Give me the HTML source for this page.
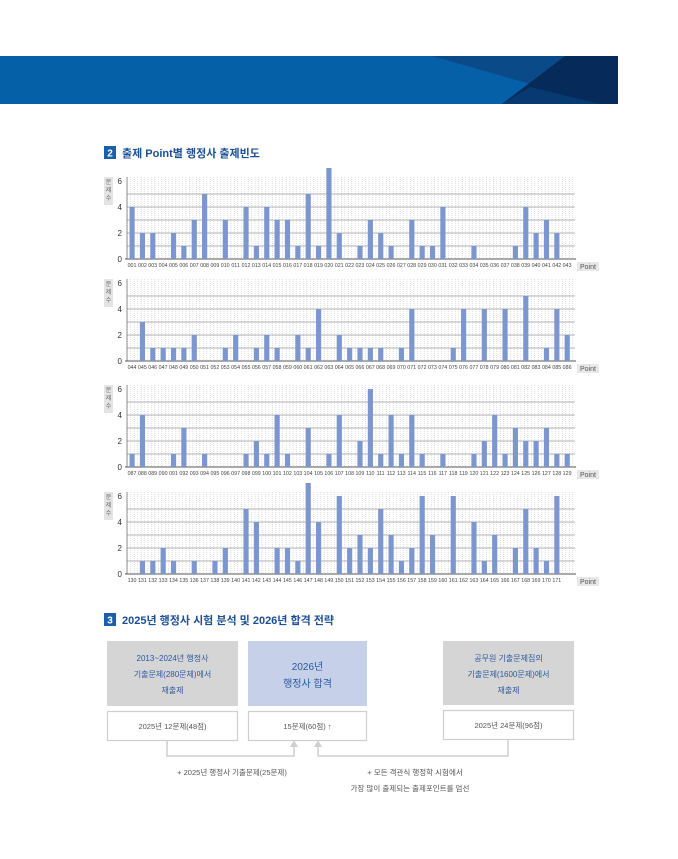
<!DOCTYPE html>
<html><head><meta charset="utf-8"><style>
html,body{margin:0;padding:0;background:#fff;}
svg{display:block;font-family:"Liberation Sans","Noto Sans CJK KR",sans-serif;}
.lb text{font-size:5.3px;fill:#444;text-anchor:middle;}
.yt{font-size:8px;fill:#333;text-anchor:end;}
.pt{font-size:7px;fill:#555;}
</style></head><body>
<svg width="678" height="859" viewBox="0 0 678 859" xmlns="http://www.w3.org/2000/svg">
<defs>
<pattern id="vd" x="127" y="0" width="3.453" height="2" patternUnits="userSpaceOnUse">
<rect x="0" y="0" width="0.6" height="1" fill="#c8c8c8"/>
</pattern>
<g id="grid">
<rect x="127" y="-82" width="448" height="82" fill="url(#vd)"/>
<g stroke="#9a9a9a" stroke-width="0.7">
<line x1="127" x2="575" y1="-13" y2="-13"/><line x1="127" x2="575" y1="-26" y2="-26"/>
<line x1="127" x2="575" y1="-39" y2="-39"/><line x1="127" x2="575" y1="-52" y2="-52"/>
<line x1="127" x2="575" y1="-65" y2="-65"/>
</g>
<line x1="127" x2="127" y1="-82" y2="0" stroke="#777" stroke-width="0.8"/>
<line x1="125" x2="576" y1="0" y2="0" stroke="#555" stroke-width="1"/>
<text class="yt" x="122" y="3">0</text><text class="yt" x="122" y="-23">2</text>
<text class="yt" x="122" y="-49">4</text><text class="yt" x="122" y="-75">6</text>
<rect x="104" y="-82" width="9" height="28" fill="#e4e4e4"/>
<text x="108.5" y="-75" font-size="6" fill="#666" text-anchor="middle">문</text>
<text x="108.5" y="-67" font-size="6" fill="#666" text-anchor="middle">제</text>
<text x="108.5" y="-59" font-size="6" fill="#666" text-anchor="middle">수</text>
<rect x="577" y="3" width="22" height="9" fill="#e8e8e8"/>
<text class="pt" x="580" y="10">Point</text>
</g>
</defs>

<!-- banner -->
<rect x="0" y="56" width="618" height="48" fill="#0560a8"/>
<polygon points="432,56 618,56 618,104 600,104" fill="#0a4a88"/>
<polygon points="565,56 618,56 618,104 502,104" fill="#062a5a"/>
<polygon points="530,87 600,104 502,104" fill="#073a70"/>

<!-- section 2 title -->
<rect x="104" y="146" width="12" height="13" fill="#1b5fa8"/>
<text x="110" y="156.5" font-size="10" font-weight="bold" fill="#fff" text-anchor="middle">2</text>
<text x="122" y="157" font-size="11" font-weight="bold" fill="#1b4f96">출제 Point별 행정사 출제빈도</text>

<!-- chart 1 -->
<g transform="translate(0,259)">
<use href="#grid"/>
<g transform="translate(129.5,0) scale(10.36,-13)" fill="#7c97cf">
<rect x="0" width="0.5" height="4"/><rect x="1" width="0.5" height="2"/><rect x="2" width="0.5" height="2"/>
<rect x="4" width="0.5" height="2"/><rect x="5" width="0.5" height="1"/><rect x="6" width="0.5" height="3"/>
<rect x="7" width="0.5" height="5"/><rect x="9" width="0.5" height="3"/><rect x="11" width="0.5" height="4"/>
<rect x="12" width="0.5" height="1"/><rect x="13" width="0.5" height="4"/><rect x="14" width="0.5" height="3"/>
<rect x="15" width="0.5" height="3"/><rect x="16" width="0.5" height="1"/><rect x="17" width="0.5" height="5"/>
<rect x="18" width="0.5" height="1"/><rect x="19" width="0.5" height="7"/><rect x="20" width="0.5" height="2"/>
<rect x="22" width="0.5" height="1"/><rect x="23" width="0.5" height="3"/><rect x="24" width="0.5" height="2"/>
<rect x="25" width="0.5" height="1"/><rect x="27" width="0.5" height="3"/><rect x="28" width="0.5" height="1"/>
<rect x="29" width="0.5" height="1"/><rect x="30" width="0.5" height="4"/><rect x="33" width="0.5" height="1"/>
<rect x="37" width="0.5" height="1"/><rect x="38" width="0.5" height="4"/><rect x="39" width="0.5" height="2"/>
<rect x="40" width="0.5" height="3"/><rect x="41" width="0.5" height="2"/>
</g>
<g class="lb" transform="translate(0,8)">
<text x="132">001</text><text x="142.4">002</text><text x="152.7">003</text><text x="163.1">004</text><text x="173.4">005</text><text x="183.8">006</text><text x="194.2">007</text><text x="204.5">008</text><text x="214.9">009</text><text x="225.2">010</text><text x="235.6">011</text><text x="246">012</text><text x="256.3">013</text><text x="266.7">014</text><text x="277">015</text><text x="287.4">016</text><text x="297.8">017</text><text x="308.1">018</text><text x="318.5">019</text><text x="328.8">020</text><text x="339.2">021</text><text x="349.6">022</text><text x="359.9">023</text><text x="370.3">024</text><text x="380.6">025</text><text x="391">026</text><text x="401.4">027</text><text x="411.7">028</text><text x="422.1">029</text><text x="432.4">030</text><text x="442.8">031</text><text x="453.2">032</text><text x="463.5">033</text><text x="473.9">034</text><text x="484.2">035</text><text x="494.6">036</text><text x="505">037</text><text x="515.3">038</text><text x="525.7">039</text><text x="536">040</text><text x="546.4">041</text><text x="556.8">042</text><text x="567.1">043</text>
</g>
</g>

<!-- chart 2 -->
<g transform="translate(0,361)">
<use href="#grid"/>
<g transform="translate(129.5,0) scale(10.36,-13)" fill="#7c97cf">
<rect x="1" width="0.5" height="3"/><rect x="2" width="0.5" height="1"/><rect x="3" width="0.5" height="1"/>
<rect x="4" width="0.5" height="1"/><rect x="5" width="0.5" height="1"/><rect x="6" width="0.5" height="2"/>
<rect x="9" width="0.5" height="1"/><rect x="10" width="0.5" height="2"/><rect x="12" width="0.5" height="1"/>
<rect x="13" width="0.5" height="2"/><rect x="14" width="0.5" height="1"/><rect x="16" width="0.5" height="2"/>
<rect x="17" width="0.5" height="1"/><rect x="18" width="0.5" height="4"/><rect x="20" width="0.5" height="2"/>
<rect x="21" width="0.5" height="1"/><rect x="22" width="0.5" height="1"/><rect x="23" width="0.5" height="1"/>
<rect x="24" width="0.5" height="1"/><rect x="26" width="0.5" height="1"/><rect x="27" width="0.5" height="4"/>
<rect x="31" width="0.5" height="1"/><rect x="32" width="0.5" height="4"/><rect x="34" width="0.5" height="4"/>
<rect x="36" width="0.5" height="4"/><rect x="38" width="0.5" height="5"/><rect x="40" width="0.5" height="1"/>
<rect x="41" width="0.5" height="4"/><rect x="42" width="0.5" height="2"/>
</g>
<g class="lb" transform="translate(0,8)">
<text x="132">044</text><text x="142.4">045</text><text x="152.7">046</text><text x="163.1">047</text><text x="173.4">048</text><text x="183.8">049</text><text x="194.2">050</text><text x="204.5">051</text><text x="214.9">052</text><text x="225.2">053</text><text x="235.6">054</text><text x="246">055</text><text x="256.3">056</text><text x="266.7">057</text><text x="277">058</text><text x="287.4">059</text><text x="297.8">060</text><text x="308.1">061</text><text x="318.5">062</text><text x="328.8">063</text><text x="339.2">064</text><text x="349.6">065</text><text x="359.9">066</text><text x="370.3">067</text><text x="380.6">068</text><text x="391">069</text><text x="401.4">070</text><text x="411.7">071</text><text x="422.1">072</text><text x="432.4">073</text><text x="442.8">074</text><text x="453.2">075</text><text x="463.5">076</text><text x="473.9">077</text><text x="484.2">078</text><text x="494.6">079</text><text x="505">080</text><text x="515.3">081</text><text x="525.7">082</text><text x="536">083</text><text x="546.4">084</text><text x="556.8">085</text><text x="567.1">086</text>
</g>
</g>

<!-- chart 3 -->
<g transform="translate(0,467)">
<use href="#grid"/>
<g transform="translate(129.5,0) scale(10.36,-13)" fill="#7c97cf">
<rect x="0" width="0.5" height="1"/><rect x="1" width="0.5" height="4"/><rect x="4" width="0.5" height="1"/>
<rect x="5" width="0.5" height="3"/><rect x="7" width="0.5" height="1"/><rect x="11" width="0.5" height="1"/>
<rect x="12" width="0.5" height="2"/><rect x="13" width="0.5" height="1"/><rect x="14" width="0.5" height="4"/>
<rect x="15" width="0.5" height="1"/><rect x="17" width="0.5" height="3"/><rect x="19" width="0.5" height="1"/>
<rect x="20" width="0.5" height="4"/><rect x="22" width="0.5" height="2"/><rect x="23" width="0.5" height="6"/>
<rect x="24" width="0.5" height="1"/><rect x="25" width="0.5" height="4"/><rect x="26" width="0.5" height="1"/>
<rect x="27" width="0.5" height="4"/><rect x="28" width="0.5" height="1"/><rect x="30" width="0.5" height="1"/>
<rect x="33" width="0.5" height="1"/><rect x="34" width="0.5" height="2"/><rect x="35" width="0.5" height="4"/>
<rect x="36" width="0.5" height="1"/><rect x="37" width="0.5" height="3"/><rect x="38" width="0.5" height="2"/>
<rect x="39" width="0.5" height="2"/><rect x="40" width="0.5" height="3"/><rect x="41" width="0.5" height="1"/>
<rect x="42" width="0.5" height="1"/>
</g>
<g class="lb" transform="translate(0,8)">
<text x="132">087</text><text x="142.4">088</text><text x="152.7">089</text><text x="163.1">090</text><text x="173.4">091</text><text x="183.8">092</text><text x="194.2">093</text><text x="204.5">094</text><text x="214.9">095</text><text x="225.2">096</text><text x="235.6">097</text><text x="246">098</text><text x="256.3">099</text><text x="266.7">100</text><text x="277">101</text><text x="287.4">102</text><text x="297.8">103</text><text x="308.1">104</text><text x="318.5">105</text><text x="328.8">106</text><text x="339.2">107</text><text x="349.6">108</text><text x="359.9">109</text><text x="370.3">110</text><text x="380.6">111</text><text x="391">112</text><text x="401.4">113</text><text x="411.7">114</text><text x="422.1">115</text><text x="432.4">116</text><text x="442.8">117</text><text x="453.2">118</text><text x="463.5">119</text><text x="473.9">120</text><text x="484.2">121</text><text x="494.6">122</text><text x="505">123</text><text x="515.3">124</text><text x="525.7">125</text><text x="536">126</text><text x="546.4">127</text><text x="556.8">128</text><text x="567.1">129</text>
</g>
</g>

<!-- chart 4 -->
<g transform="translate(0,574)">
<use href="#grid"/>
<g transform="translate(129.5,0) scale(10.36,-13)" fill="#7c97cf">
<rect x="1" width="0.5" height="1"/><rect x="2" width="0.5" height="1"/><rect x="3" width="0.5" height="2"/>
<rect x="4" width="0.5" height="1"/><rect x="6" width="0.5" height="1"/><rect x="8" width="0.5" height="1"/>
<rect x="9" width="0.5" height="2"/><rect x="11" width="0.5" height="5"/><rect x="12" width="0.5" height="4"/>
<rect x="14" width="0.5" height="2"/><rect x="15" width="0.5" height="2"/><rect x="16" width="0.5" height="1"/>
<rect x="17" width="0.5" height="7"/><rect x="18" width="0.5" height="4"/><rect x="20" width="0.5" height="6"/>
<rect x="21" width="0.5" height="2"/><rect x="22" width="0.5" height="3"/><rect x="23" width="0.5" height="2"/>
<rect x="24" width="0.5" height="5"/><rect x="25" width="0.5" height="3"/><rect x="26" width="0.5" height="1"/>
<rect x="27" width="0.5" height="2"/><rect x="28" width="0.5" height="6"/><rect x="29" width="0.5" height="3"/>
<rect x="31" width="0.5" height="6"/><rect x="33" width="0.5" height="4"/><rect x="34" width="0.5" height="1"/>
<rect x="35" width="0.5" height="3"/><rect x="37" width="0.5" height="2"/><rect x="38" width="0.5" height="5"/>
<rect x="39" width="0.5" height="2"/><rect x="40" width="0.5" height="1"/><rect x="41" width="0.5" height="6"/>
</g>
<g class="lb" transform="translate(0,8)">
<text x="132">130</text><text x="142.4">131</text><text x="152.7">132</text><text x="163.1">133</text><text x="173.4">134</text><text x="183.8">135</text><text x="194.2">136</text><text x="204.5">137</text><text x="214.9">138</text><text x="225.2">139</text><text x="235.6">140</text><text x="246">141</text><text x="256.3">142</text><text x="266.7">143</text><text x="277">144</text><text x="287.4">145</text><text x="297.8">146</text><text x="308.1">147</text><text x="318.5">148</text><text x="328.8">149</text><text x="339.2">150</text><text x="349.6">151</text><text x="359.9">152</text><text x="370.3">153</text><text x="380.6">154</text><text x="391">155</text><text x="401.4">156</text><text x="411.7">157</text><text x="422.1">158</text><text x="432.4">159</text><text x="442.8">160</text><text x="453.2">161</text><text x="463.5">162</text><text x="473.9">163</text><text x="484.2">164</text><text x="494.6">165</text><text x="505">166</text><text x="515.3">167</text><text x="525.7">168</text><text x="536">169</text><text x="546.4">170</text><text x="556.8">171</text>
</g>
</g>

<!-- section 3 title -->
<rect x="104" y="613" width="12" height="13" fill="#1b5fa8"/>
<text x="110" y="623.5" font-size="10" font-weight="bold" fill="#fff" text-anchor="middle">3</text>
<text x="122" y="624" font-size="11" font-weight="bold" fill="#1b4f96">2025년 행정사 시험 분석 및 2026년 합격 전략</text>

<!-- boxes -->
<rect x="107" y="641" width="131" height="65" fill="#d5d5d5"/>
<g font-size="8" fill="#2a5aa0" text-anchor="middle">
<text x="172.5" y="661">2013~2024년 행정사</text>
<text x="172.5" y="677">기출문제(280문제)에서</text>
<text x="172.5" y="693">재출제</text>
</g>
<rect x="248" y="641" width="119" height="65" fill="#c6d0e8"/>
<g font-size="10" fill="#2a5aa0" text-anchor="middle">
<text x="307.5" y="670">2026년</text>
<text x="307.5" y="687">행정사 합격</text>
</g>
<rect x="443" y="641" width="131" height="64" fill="#d5d5d5"/>
<g font-size="8" fill="#2a5aa0" text-anchor="middle">
<text x="508.5" y="661">공무원 기출문제집의</text>
<text x="508.5" y="677">기출문제(1600문제)에서</text>
<text x="508.5" y="693">재출제</text>
</g>
<g fill="#fff" stroke="#cfcfcf" stroke-width="1.2">
<rect x="107.5" y="711.5" width="130" height="29"/>
<rect x="248.5" y="711.5" width="118" height="29"/>
<rect x="443.5" y="710.5" width="130" height="29"/>
</g>
<g font-size="7.5" fill="#555" text-anchor="middle">
<text x="172.5" y="729">2025년 12문제(48점)</text>
<text x="307.5" y="729">15문제(60점) ↑</text>
<text x="508.5" y="728">2025년 24문제(96점)</text>
</g>
<!-- connectors -->
<g fill="none" stroke="#cfcfcf" stroke-width="1.5">
<polyline points="167,741 167,756 294,756 294,746"/>
<polyline points="318,746 318,756 508,756 508,740"/>
</g>
<polygon points="290,747 298,747 294,740" fill="#cfcfcf"/>
<polygon points="314,747 322,747 318,740" fill="#cfcfcf"/>
<g font-size="7.5" fill="#555" text-anchor="middle">
<text x="232" y="775">+ 2025년 행정사 기출문제(25문제)</text>
<text x="415" y="775">+ 모든 객관식 행정학 시험에서</text>
<text x="410" y="791">가장 많이 출제되는 출제포인트를 엄선</text>
</g>
</svg>
</body></html>
